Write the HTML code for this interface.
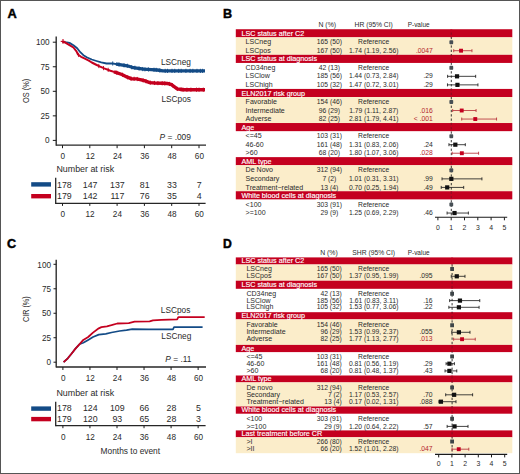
<!DOCTYPE html>
<html><head><meta charset="utf-8"><style>
html,body{margin:0;padding:0;background:#fff;}
#wrap{position:relative;width:520px;height:474px;overflow:hidden;background:#fff;}
#frame{position:absolute;left:0;top:0;width:518px;height:472px;border:1px solid #555;}
svg{position:absolute;left:0;top:0;}
text{font-family:"Liberation Sans", sans-serif;}
</style></head><body><div id="wrap">
<svg width="520" height="474" viewBox="0 0 520 474" font-family='"Liberation Sans", sans-serif'>
<text x="7.50" y="17.80" font-size="12.8" fill="#000" font-weight="bold" stroke="#000" stroke-width="0.45">A</text>
<text x="223.00" y="17.80" font-size="12.6" fill="#000" font-weight="bold" stroke="#000" stroke-width="0.45">B</text>
<text x="7.00" y="248.00" font-size="12.6" fill="#000" font-weight="bold" stroke="#000" stroke-width="0.45">C</text>
<text x="223.00" y="247.70" font-size="12.2" fill="#000" font-weight="bold" stroke="#000" stroke-width="0.45">D</text>
<line x1="56.20" y1="36.50" x2="56.20" y2="145.80" stroke="#262626" stroke-width="1.35"/>
<line x1="52.80" y1="140.40" x2="56.20" y2="140.40" stroke="#1a1a1a" stroke-width="1"/>
<text x="49.60" y="143.30" font-size="8.2" fill="#2a2a2a" text-anchor="end">0</text>
<line x1="52.80" y1="115.85" x2="56.20" y2="115.85" stroke="#1a1a1a" stroke-width="1"/>
<text x="49.60" y="118.75" font-size="8.2" fill="#2a2a2a" text-anchor="end">25</text>
<line x1="52.80" y1="91.30" x2="56.20" y2="91.30" stroke="#1a1a1a" stroke-width="1"/>
<text x="49.60" y="94.20" font-size="8.2" fill="#2a2a2a" text-anchor="end">50</text>
<line x1="52.80" y1="66.75" x2="56.20" y2="66.75" stroke="#1a1a1a" stroke-width="1"/>
<text x="49.60" y="69.65" font-size="8.2" fill="#2a2a2a" text-anchor="end">75</text>
<line x1="52.80" y1="42.20" x2="56.20" y2="42.20" stroke="#1a1a1a" stroke-width="1"/>
<text x="49.60" y="45.10" font-size="8.2" fill="#2a2a2a" text-anchor="end">100</text>
<line x1="56.20" y1="145.20" x2="206.00" y2="145.20" stroke="#262626" stroke-width="1.3"/>
<line x1="62.50" y1="145.20" x2="62.50" y2="148.20" stroke="#1a1a1a" stroke-width="1"/>
<text x="62.90" y="159.30" font-size="8.2" fill="#2a2a2a" text-anchor="middle">0</text>
<line x1="89.80" y1="145.20" x2="89.80" y2="148.20" stroke="#1a1a1a" stroke-width="1"/>
<text x="90.20" y="159.30" font-size="8.2" fill="#2a2a2a" text-anchor="middle">12</text>
<line x1="117.10" y1="145.20" x2="117.10" y2="148.20" stroke="#1a1a1a" stroke-width="1"/>
<text x="117.50" y="159.30" font-size="8.2" fill="#2a2a2a" text-anchor="middle">24</text>
<line x1="144.40" y1="145.20" x2="144.40" y2="148.20" stroke="#1a1a1a" stroke-width="1"/>
<text x="144.80" y="159.30" font-size="8.2" fill="#2a2a2a" text-anchor="middle">36</text>
<line x1="171.70" y1="145.20" x2="171.70" y2="148.20" stroke="#1a1a1a" stroke-width="1"/>
<text x="172.10" y="159.30" font-size="8.2" fill="#2a2a2a" text-anchor="middle">48</text>
<line x1="199.00" y1="145.20" x2="199.00" y2="148.20" stroke="#1a1a1a" stroke-width="1"/>
<text x="199.40" y="159.30" font-size="8.2" fill="#2a2a2a" text-anchor="middle">60</text>
<text x="25.70" y="90.90" font-size="9.0" fill="#2a2a2a" text-anchor="middle" textLength="24.2" lengthAdjust="spacingAndGlyphs" transform="rotate(-90 25.7 90.9)" dy="3.3">OS (%)</text>
<polyline points="62.5,41.6 65.5,42.2 69.5,42.9 73.4,45.2 77.2,48.3 80.3,52.2 83.4,55.2 87.2,57.5 91.8,59.5 96.5,61.0 101.2,62.4 106.5,63.5 112.7,63.5 118.0,64.3 122.7,65.1 127.3,65.8 132.0,67.3 136.6,68.1 143.5,69.2 151.2,69.6 157.4,70.0 162.8,70.9 172.0,70.9 205.0,70.9" fill="none" stroke="#134b86" stroke-width="1.8" stroke-linejoin="round" stroke-linecap="butt"/>
<polyline points="116.0,64.0 118.0,64.3 122.7,65.1 127.3,65.8 132.0,67.3 136.6,68.1 143.5,69.2 151.2,69.6 157.4,70.0 162.8,70.9 172.0,70.9 205.0,70.9" fill="none" stroke="#134b86" stroke-width="3.3" stroke-linejoin="round" stroke-linecap="butt"/>
<line x1="112.70" y1="61.40" x2="112.70" y2="65.60" stroke="#134b86" stroke-width="0.9"/>
<line x1="119.00" y1="62.37" x2="119.00" y2="66.57" stroke="#134b86" stroke-width="0.9"/>
<line x1="124.00" y1="63.20" x2="124.00" y2="67.40" stroke="#134b86" stroke-width="0.9"/>
<line x1="127.37" y1="63.72" x2="127.37" y2="67.92" stroke="#134b86" stroke-width="0.9"/>
<line x1="131.71" y1="65.11" x2="131.71" y2="69.31" stroke="#134b86" stroke-width="0.9"/>
<line x1="134.89" y1="65.70" x2="134.89" y2="69.90" stroke="#134b86" stroke-width="0.9"/>
<line x1="139.05" y1="66.39" x2="139.05" y2="70.59" stroke="#134b86" stroke-width="0.9"/>
<line x1="142.70" y1="66.97" x2="142.70" y2="71.17" stroke="#134b86" stroke-width="0.9"/>
<line x1="144.96" y1="67.18" x2="144.96" y2="71.38" stroke="#134b86" stroke-width="0.9"/>
<line x1="148.43" y1="67.36" x2="148.43" y2="71.56" stroke="#134b86" stroke-width="0.9"/>
<line x1="154.01" y1="67.68" x2="154.01" y2="71.88" stroke="#134b86" stroke-width="0.9"/>
<line x1="156.22" y1="67.82" x2="156.22" y2="72.02" stroke="#134b86" stroke-width="0.9"/>
<line x1="159.76" y1="68.29" x2="159.76" y2="72.49" stroke="#134b86" stroke-width="0.9"/>
<line x1="165.19" y1="68.80" x2="165.19" y2="73.00" stroke="#134b86" stroke-width="0.9"/>
<line x1="167.53" y1="68.80" x2="167.53" y2="73.00" stroke="#134b86" stroke-width="0.9"/>
<line x1="172.01" y1="68.80" x2="172.01" y2="73.00" stroke="#134b86" stroke-width="0.9"/>
<line x1="174.74" y1="68.80" x2="174.74" y2="73.00" stroke="#134b86" stroke-width="0.9"/>
<line x1="178.73" y1="68.80" x2="178.73" y2="73.00" stroke="#134b86" stroke-width="0.9"/>
<line x1="181.16" y1="68.80" x2="181.16" y2="73.00" stroke="#134b86" stroke-width="0.9"/>
<line x1="185.92" y1="68.80" x2="185.92" y2="73.00" stroke="#134b86" stroke-width="0.9"/>
<line x1="190.08" y1="68.80" x2="190.08" y2="73.00" stroke="#134b86" stroke-width="0.9"/>
<line x1="192.86" y1="68.80" x2="192.86" y2="73.00" stroke="#134b86" stroke-width="0.9"/>
<line x1="196.98" y1="68.80" x2="196.98" y2="73.00" stroke="#134b86" stroke-width="0.9"/>
<line x1="200.41" y1="68.80" x2="200.41" y2="73.00" stroke="#134b86" stroke-width="0.9"/>
<line x1="202.55" y1="68.80" x2="202.55" y2="73.00" stroke="#134b86" stroke-width="0.9"/>
<polyline points="62.5,41.6 65.7,42.9 69.5,45.2 73.4,47.5 76.5,51.4 78.0,54.5 81.1,56.8 84.9,58.7 88.8,60.6 91.8,62.5 95.7,64.5 99.6,66.4 104.2,68.4 110.4,70.7 116.5,72.6 121.9,74.5 127.3,77.2 131.2,78.7 136.6,78.9 141.2,79.8 145.1,80.9 149.7,82.6 155.0,83.0 162.8,83.3 167.4,83.5 171.1,84.3 174.2,86.6 177.2,88.9 183.4,89.7 205.0,89.7" fill="none" stroke="#c4001f" stroke-width="2.0" stroke-linejoin="round" stroke-linecap="butt"/>
<polyline points="114.0,71.8 116.5,72.6 121.9,74.5 127.3,77.2 131.2,78.7 136.6,78.9 141.2,79.8 145.1,80.9 149.7,82.6 155.0,83.0 162.8,83.3 167.4,83.5 171.1,84.3 174.2,86.6 177.2,88.9 183.4,89.7 205.0,89.7" fill="none" stroke="#c4001f" stroke-width="3.4" stroke-linejoin="round" stroke-linecap="butt"/>
<line x1="60.70" y1="41.40" x2="65.30" y2="41.40" stroke="#c4001f" stroke-width="1.1"/>
<line x1="63.00" y1="39.10" x2="63.00" y2="43.70" stroke="#c4001f" stroke-width="1.1"/>
<line x1="78.60" y1="52.85" x2="78.60" y2="57.05" stroke="#c4001f" stroke-width="0.9"/>
<line x1="98.80" y1="63.91" x2="98.80" y2="68.11" stroke="#c4001f" stroke-width="0.9"/>
<line x1="103.50" y1="66.00" x2="103.50" y2="70.20" stroke="#c4001f" stroke-width="0.9"/>
<line x1="108.20" y1="67.78" x2="108.20" y2="71.98" stroke="#c4001f" stroke-width="0.9"/>
<line x1="116.80" y1="70.61" x2="116.80" y2="74.81" stroke="#c4001f" stroke-width="0.9"/>
<line x1="122.50" y1="72.70" x2="122.50" y2="76.90" stroke="#c4001f" stroke-width="0.9"/>
<line x1="127.62" y1="75.22" x2="127.62" y2="79.42" stroke="#c4001f" stroke-width="0.9"/>
<line x1="131.02" y1="76.53" x2="131.02" y2="80.73" stroke="#c4001f" stroke-width="0.9"/>
<line x1="134.12" y1="76.71" x2="134.12" y2="80.91" stroke="#c4001f" stroke-width="0.9"/>
<line x1="137.27" y1="76.93" x2="137.27" y2="81.13" stroke="#c4001f" stroke-width="0.9"/>
<line x1="143.08" y1="78.23" x2="143.08" y2="82.43" stroke="#c4001f" stroke-width="0.9"/>
<line x1="145.93" y1="79.11" x2="145.93" y2="83.31" stroke="#c4001f" stroke-width="0.9"/>
<line x1="150.33" y1="80.55" x2="150.33" y2="84.75" stroke="#c4001f" stroke-width="0.9"/>
<line x1="154.51" y1="80.86" x2="154.51" y2="85.06" stroke="#c4001f" stroke-width="0.9"/>
<line x1="157.91" y1="81.01" x2="157.91" y2="85.21" stroke="#c4001f" stroke-width="0.9"/>
<line x1="162.21" y1="81.18" x2="162.21" y2="85.38" stroke="#c4001f" stroke-width="0.9"/>
<line x1="164.75" y1="81.28" x2="164.75" y2="85.48" stroke="#c4001f" stroke-width="0.9"/>
<line x1="169.52" y1="81.86" x2="169.52" y2="86.06" stroke="#c4001f" stroke-width="0.9"/>
<line x1="172.47" y1="83.21" x2="172.47" y2="87.41" stroke="#c4001f" stroke-width="0.9"/>
<line x1="177.45" y1="86.83" x2="177.45" y2="91.03" stroke="#c4001f" stroke-width="0.9"/>
<line x1="181.11" y1="87.30" x2="181.11" y2="91.50" stroke="#c4001f" stroke-width="0.9"/>
<line x1="183.03" y1="87.55" x2="183.03" y2="91.75" stroke="#c4001f" stroke-width="0.9"/>
<line x1="186.93" y1="87.60" x2="186.93" y2="91.80" stroke="#c4001f" stroke-width="0.9"/>
<line x1="190.92" y1="87.60" x2="190.92" y2="91.80" stroke="#c4001f" stroke-width="0.9"/>
<line x1="196.52" y1="87.60" x2="196.52" y2="91.80" stroke="#c4001f" stroke-width="0.9"/>
<line x1="199.05" y1="87.60" x2="199.05" y2="91.80" stroke="#c4001f" stroke-width="0.9"/>
<line x1="203.30" y1="87.60" x2="203.30" y2="91.80" stroke="#c4001f" stroke-width="0.9"/>
<text x="160.90" y="64.90" font-size="8.3" fill="#2a2a2a">LSCneg</text>
<text x="161.40" y="102.30" font-size="8.3" fill="#2a2a2a">LSCpos</text>
<text x="159.5" y="140.2" font-size="8.4" fill="#2a2a2a"><tspan font-style="italic">P</tspan> = .009</text>
<text x="56.40" y="171.60" font-size="8.9" fill="#2a2a2a">Number at risk</text>
<line x1="55.70" y1="177.70" x2="55.70" y2="203.90" stroke="#262626" stroke-width="1.3"/>
<line x1="55.70" y1="203.30" x2="205.60" y2="203.30" stroke="#262626" stroke-width="1.3"/>
<rect x="31.20" y="182.20" width="19.80" height="4.40" fill="#134b86"/>
<rect x="31.20" y="194.00" width="19.80" height="4.40" fill="#c4001f"/>
<line x1="62.50" y1="203.30" x2="62.50" y2="205.90" stroke="#1a1a1a" stroke-width="1"/>
<text x="62.80" y="217.30" font-size="8.2" fill="#2a2a2a" text-anchor="middle">0</text>
<line x1="89.80" y1="203.30" x2="89.80" y2="205.90" stroke="#1a1a1a" stroke-width="1"/>
<text x="90.10" y="217.30" font-size="8.2" fill="#2a2a2a" text-anchor="middle">12</text>
<line x1="117.10" y1="203.30" x2="117.10" y2="205.90" stroke="#1a1a1a" stroke-width="1"/>
<text x="117.40" y="217.30" font-size="8.2" fill="#2a2a2a" text-anchor="middle">24</text>
<line x1="144.40" y1="203.30" x2="144.40" y2="205.90" stroke="#1a1a1a" stroke-width="1"/>
<text x="144.70" y="217.30" font-size="8.2" fill="#2a2a2a" text-anchor="middle">36</text>
<line x1="171.70" y1="203.30" x2="171.70" y2="205.90" stroke="#1a1a1a" stroke-width="1"/>
<text x="172.00" y="217.30" font-size="8.2" fill="#2a2a2a" text-anchor="middle">48</text>
<line x1="199.00" y1="203.30" x2="199.00" y2="205.90" stroke="#1a1a1a" stroke-width="1"/>
<text x="199.30" y="217.30" font-size="8.2" fill="#2a2a2a" text-anchor="middle">60</text>
<text x="57.00" y="187.80" font-size="8.8" fill="#2a2a2a">178</text>
<text x="90.10" y="187.80" font-size="8.8" fill="#2a2a2a" text-anchor="middle">147</text>
<text x="117.40" y="187.80" font-size="8.8" fill="#2a2a2a" text-anchor="middle">137</text>
<text x="144.70" y="187.80" font-size="8.8" fill="#2a2a2a" text-anchor="middle">81</text>
<text x="172.00" y="187.80" font-size="8.8" fill="#2a2a2a" text-anchor="middle">33</text>
<text x="199.30" y="187.80" font-size="8.8" fill="#2a2a2a" text-anchor="middle">7</text>
<text x="57.00" y="199.10" font-size="8.8" fill="#2a2a2a">179</text>
<text x="90.10" y="199.10" font-size="8.8" fill="#2a2a2a" text-anchor="middle">142</text>
<text x="117.40" y="199.10" font-size="8.8" fill="#2a2a2a" text-anchor="middle">117</text>
<text x="144.70" y="199.10" font-size="8.8" fill="#2a2a2a" text-anchor="middle">76</text>
<text x="172.00" y="199.10" font-size="8.8" fill="#2a2a2a" text-anchor="middle">35</text>
<text x="199.30" y="199.10" font-size="8.8" fill="#2a2a2a" text-anchor="middle">4</text>
<line x1="56.20" y1="259.70" x2="56.20" y2="367.60" stroke="#262626" stroke-width="1.35"/>
<line x1="53.50" y1="362.20" x2="56.20" y2="362.20" stroke="#1a1a1a" stroke-width="1"/>
<text x="51.00" y="365.40" font-size="8.2" fill="#2a2a2a" text-anchor="end">0</text>
<line x1="53.50" y1="337.73" x2="56.20" y2="337.73" stroke="#1a1a1a" stroke-width="1"/>
<text x="51.00" y="340.93" font-size="8.2" fill="#2a2a2a" text-anchor="end">25</text>
<line x1="53.50" y1="313.25" x2="56.20" y2="313.25" stroke="#1a1a1a" stroke-width="1"/>
<text x="51.00" y="316.45" font-size="8.2" fill="#2a2a2a" text-anchor="end">50</text>
<line x1="53.50" y1="288.77" x2="56.20" y2="288.77" stroke="#1a1a1a" stroke-width="1"/>
<text x="51.00" y="291.97" font-size="8.2" fill="#2a2a2a" text-anchor="end">75</text>
<line x1="53.50" y1="264.30" x2="56.20" y2="264.30" stroke="#1a1a1a" stroke-width="1"/>
<text x="51.00" y="267.50" font-size="8.2" fill="#2a2a2a" text-anchor="end">100</text>
<line x1="56.20" y1="367.00" x2="206.00" y2="367.00" stroke="#262626" stroke-width="1.3"/>
<line x1="62.90" y1="367.00" x2="62.90" y2="370.00" stroke="#1a1a1a" stroke-width="1"/>
<text x="63.30" y="381.10" font-size="8.2" fill="#2a2a2a" text-anchor="middle">0</text>
<line x1="89.95" y1="367.00" x2="89.95" y2="370.00" stroke="#1a1a1a" stroke-width="1"/>
<text x="90.35" y="381.10" font-size="8.2" fill="#2a2a2a" text-anchor="middle">12</text>
<line x1="117.00" y1="367.00" x2="117.00" y2="370.00" stroke="#1a1a1a" stroke-width="1"/>
<text x="117.40" y="381.10" font-size="8.2" fill="#2a2a2a" text-anchor="middle">24</text>
<line x1="144.04" y1="367.00" x2="144.04" y2="370.00" stroke="#1a1a1a" stroke-width="1"/>
<text x="144.44" y="381.10" font-size="8.2" fill="#2a2a2a" text-anchor="middle">36</text>
<line x1="171.09" y1="367.00" x2="171.09" y2="370.00" stroke="#1a1a1a" stroke-width="1"/>
<text x="171.49" y="381.10" font-size="8.2" fill="#2a2a2a" text-anchor="middle">48</text>
<line x1="198.14" y1="367.00" x2="198.14" y2="370.00" stroke="#1a1a1a" stroke-width="1"/>
<text x="198.54" y="381.10" font-size="8.2" fill="#2a2a2a" text-anchor="middle">60</text>
<text x="25.70" y="309.20" font-size="8.8" fill="#2a2a2a" text-anchor="middle" textLength="25.7" lengthAdjust="spacingAndGlyphs" transform="rotate(-90 25.7 309.2)" dy="3.3">CIR (%)</text>
<polyline points="63.6,362.2 67.8,358.3 71.7,353.5 75.5,348.6 79.4,344.3 83.3,342.8 88.2,339.9 93.0,337.0 98.8,334.6 105.8,333.8 111.5,332.5 119.6,331.0 126.5,330.1 132.3,329.2 148.5,329.3 173.0,329.3 174.0,327.2 202.6,327.2" fill="none" stroke="#134b86" stroke-width="1.7" stroke-linejoin="round" stroke-linecap="butt"/>
<polyline points="63.6,362.2 67.8,358.3 71.7,353.5 75.5,348.6 79.4,344.3 83.3,339.9 88.2,337.0 93.0,332.6 98.8,328.3 101.4,327.2 106.9,326.3 111.5,325.2 117.3,323.5 128.8,323.2 134.6,321.7 149.6,321.4 153.0,320.3 161.3,319.8 177.2,319.3 178.3,317.2 204.7,317.2" fill="none" stroke="#c4001f" stroke-width="1.8" stroke-linejoin="round" stroke-linecap="butt"/>
<text x="160.80" y="312.50" font-size="8.3" fill="#2a2a2a">LSCpos</text>
<text x="161.30" y="339.40" font-size="8.3" fill="#2a2a2a">LSCneg</text>
<text x="165.3" y="362.2" font-size="8.4" fill="#2a2a2a"><tspan font-style="italic">P</tspan> = .11</text>
<text x="56.40" y="395.70" font-size="8.9" fill="#2a2a2a">Number at risk</text>
<line x1="55.70" y1="401.80" x2="55.70" y2="426.20" stroke="#262626" stroke-width="1.3"/>
<line x1="55.70" y1="425.60" x2="205.60" y2="425.60" stroke="#262626" stroke-width="1.3"/>
<rect x="31.20" y="406.40" width="19.80" height="4.40" fill="#134b86"/>
<rect x="31.20" y="416.90" width="19.80" height="4.40" fill="#c4001f"/>
<line x1="62.90" y1="425.60" x2="62.90" y2="428.20" stroke="#1a1a1a" stroke-width="1"/>
<text x="63.20" y="439.70" font-size="8.2" fill="#2a2a2a" text-anchor="middle">0</text>
<line x1="89.95" y1="425.60" x2="89.95" y2="428.20" stroke="#1a1a1a" stroke-width="1"/>
<text x="90.25" y="439.70" font-size="8.2" fill="#2a2a2a" text-anchor="middle">12</text>
<line x1="117.00" y1="425.60" x2="117.00" y2="428.20" stroke="#1a1a1a" stroke-width="1"/>
<text x="117.30" y="439.70" font-size="8.2" fill="#2a2a2a" text-anchor="middle">24</text>
<line x1="144.04" y1="425.60" x2="144.04" y2="428.20" stroke="#1a1a1a" stroke-width="1"/>
<text x="144.34" y="439.70" font-size="8.2" fill="#2a2a2a" text-anchor="middle">36</text>
<line x1="171.09" y1="425.60" x2="171.09" y2="428.20" stroke="#1a1a1a" stroke-width="1"/>
<text x="171.39" y="439.70" font-size="8.2" fill="#2a2a2a" text-anchor="middle">48</text>
<line x1="198.14" y1="425.60" x2="198.14" y2="428.20" stroke="#1a1a1a" stroke-width="1"/>
<text x="198.44" y="439.70" font-size="8.2" fill="#2a2a2a" text-anchor="middle">60</text>
<text x="57.00" y="411.40" font-size="8.8" fill="#2a2a2a">178</text>
<text x="90.25" y="411.40" font-size="8.8" fill="#2a2a2a" text-anchor="middle">124</text>
<text x="117.30" y="411.40" font-size="8.8" fill="#2a2a2a" text-anchor="middle">109</text>
<text x="144.34" y="411.40" font-size="8.8" fill="#2a2a2a" text-anchor="middle">66</text>
<text x="171.39" y="411.40" font-size="8.8" fill="#2a2a2a" text-anchor="middle">28</text>
<text x="198.44" y="411.40" font-size="8.8" fill="#2a2a2a" text-anchor="middle">5</text>
<text x="57.00" y="422.00" font-size="8.8" fill="#2a2a2a">179</text>
<text x="90.25" y="422.00" font-size="8.8" fill="#2a2a2a" text-anchor="middle">120</text>
<text x="117.30" y="422.00" font-size="8.8" fill="#2a2a2a" text-anchor="middle">93</text>
<text x="144.34" y="422.00" font-size="8.8" fill="#2a2a2a" text-anchor="middle">65</text>
<text x="171.39" y="422.00" font-size="8.8" fill="#2a2a2a" text-anchor="middle">28</text>
<text x="198.44" y="422.00" font-size="8.8" fill="#2a2a2a" text-anchor="middle">3</text>
<text x="100.60" y="454.10" font-size="9.9" fill="#2a2a2a" textLength="59.5" lengthAdjust="spacingAndGlyphs">Months to event</text>
<rect x="235.80" y="29.23" width="276.50" height="8.12" fill="#c4001f"/>
<rect x="235.80" y="37.35" width="276.50" height="17.46" fill="#fbedca"/>
<rect x="235.80" y="54.81" width="276.50" height="8.12" fill="#c4001f"/>
<rect x="235.80" y="88.92" width="276.50" height="8.12" fill="#c4001f"/>
<rect x="235.80" y="97.04" width="276.50" height="25.99" fill="#fbedca"/>
<rect x="235.80" y="123.03" width="276.50" height="8.12" fill="#c4001f"/>
<rect x="235.80" y="157.13" width="276.50" height="8.12" fill="#c4001f"/>
<rect x="235.80" y="165.25" width="276.50" height="25.99" fill="#fbedca"/>
<rect x="235.80" y="191.24" width="276.50" height="8.12" fill="#c4001f"/>
<text x="318.50" y="26.60" font-size="6.75" fill="#2a2a2a" textLength="17.5" lengthAdjust="spacingAndGlyphs">N (%)</text>
<text x="373.70" y="26.60" font-size="6.75" fill="#2a2a2a" text-anchor="middle">HR (95% CI)</text>
<text x="407.70" y="26.60" font-size="6.75" fill="#2a2a2a" textLength="21.9" lengthAdjust="spacingAndGlyphs">P-value</text>
<line x1="451.30" y1="32.50" x2="451.30" y2="217.30" stroke="#222" stroke-width="0.9" stroke-dasharray="2.3,2.0"/>
<rect x="450.30" y="29.23" width="2" height="8.12" fill="#c4001f" opacity="0.6"/>
<rect x="450.30" y="54.81" width="2" height="8.12" fill="#c4001f" opacity="0.6"/>
<rect x="450.30" y="88.92" width="2" height="8.12" fill="#c4001f" opacity="0.6"/>
<rect x="450.30" y="123.03" width="2" height="8.12" fill="#c4001f" opacity="0.6"/>
<rect x="450.30" y="157.13" width="2" height="8.12" fill="#c4001f" opacity="0.6"/>
<rect x="450.30" y="191.24" width="2" height="8.12" fill="#c4001f" opacity="0.6"/>
<text x="241.50" y="35.70" font-size="7.2" fill="#fff" stroke="#fff" stroke-width="0.15">LSC status after C2</text>
<text x="245.60" y="44.25" font-size="7.05" fill="#2a2a2a">LSCneg</text>
<text x="329.40" y="44.25" font-size="6.75" fill="#2a2a2a" text-anchor="middle">165 (50)</text>
<text x="373.70" y="44.25" font-size="6.75" fill="#2a2a2a" text-anchor="middle">Reference</text>
<rect x="449.40" y="40.15" width="3.8" height="4.0" rx="0.9" fill="#474f55"/>
<text x="245.60" y="52.79" font-size="7.05" fill="#2a2a2a">LSCpos</text>
<text x="329.40" y="52.79" font-size="6.75" fill="#2a2a2a" text-anchor="middle">167 (50)</text>
<text x="373.70" y="52.79" font-size="6.75" fill="#2a2a2a" text-anchor="middle">1.74 (1.19, 2.56)</text>
<text x="432.80" y="52.79" font-size="6.75" fill="#b3242c" text-anchor="end">.0047</text>
<line x1="453.73" y1="50.69" x2="471.95" y2="50.69" stroke="#b8343c" stroke-width="0.85"/>
<line x1="453.73" y1="49.19" x2="453.73" y2="52.19" stroke="#b8343c" stroke-width="0.9"/>
<line x1="471.95" y1="49.19" x2="471.95" y2="52.19" stroke="#b8343c" stroke-width="0.9"/>
<rect x="459.09" y="48.74" width="3.90" height="3.90" fill="#c4001f"/>
<text x="241.50" y="61.34" font-size="7.2" fill="#fff" stroke="#fff" stroke-width="0.15">LSC status at diagnosis</text>
<text x="245.60" y="69.88" font-size="7.05" fill="#2a2a2a">CD34neg</text>
<text x="329.40" y="69.88" font-size="6.75" fill="#2a2a2a" text-anchor="middle">42 (13)</text>
<text x="373.70" y="69.88" font-size="6.75" fill="#2a2a2a" text-anchor="middle">Reference</text>
<rect x="449.40" y="65.78" width="3.8" height="4.0" rx="0.9" fill="#474f55"/>
<text x="245.60" y="78.43" font-size="7.05" fill="#2a2a2a">LSClow</text>
<text x="329.40" y="78.43" font-size="6.75" fill="#2a2a2a" text-anchor="middle">185 (56)</text>
<text x="373.70" y="78.43" font-size="6.75" fill="#2a2a2a" text-anchor="middle">1.44 (0.73, 2.84)</text>
<text x="432.80" y="78.43" font-size="6.75" fill="#2a2a2a" text-anchor="end">.29</text>
<line x1="447.61" y1="76.33" x2="475.67" y2="76.33" stroke="#222" stroke-width="0.85"/>
<line x1="447.61" y1="74.83" x2="447.61" y2="77.83" stroke="#222" stroke-width="0.9"/>
<line x1="475.67" y1="74.83" x2="475.67" y2="77.83" stroke="#222" stroke-width="0.9"/>
<rect x="454.95" y="74.23" width="4.20" height="4.20" fill="#111"/>
<text x="245.60" y="86.97" font-size="7.05" fill="#2a2a2a">LSChigh</text>
<text x="329.40" y="86.97" font-size="6.75" fill="#2a2a2a" text-anchor="middle">105 (32)</text>
<text x="373.70" y="86.97" font-size="6.75" fill="#2a2a2a" text-anchor="middle">1.47 (0.72, 3.01)</text>
<text x="432.80" y="86.97" font-size="6.75" fill="#2a2a2a" text-anchor="end">.29</text>
<line x1="447.48" y1="84.87" x2="477.93" y2="84.87" stroke="#222" stroke-width="0.85"/>
<line x1="447.48" y1="83.37" x2="447.48" y2="86.37" stroke="#222" stroke-width="0.9"/>
<line x1="477.93" y1="83.37" x2="477.93" y2="86.37" stroke="#222" stroke-width="0.9"/>
<rect x="455.35" y="82.77" width="4.20" height="4.20" fill="#111"/>
<text x="241.50" y="95.52" font-size="7.2" fill="#fff" stroke="#fff" stroke-width="0.15">ELN2017 risk group</text>
<text x="245.60" y="104.06" font-size="7.05" fill="#2a2a2a">Favorable</text>
<text x="329.40" y="104.06" font-size="6.75" fill="#2a2a2a" text-anchor="middle">154 (46)</text>
<text x="373.70" y="104.06" font-size="6.75" fill="#2a2a2a" text-anchor="middle">Reference</text>
<rect x="449.40" y="99.96" width="3.8" height="4.0" rx="0.9" fill="#474f55"/>
<text x="245.60" y="112.61" font-size="7.05" fill="#2a2a2a">Intermediate</text>
<text x="329.40" y="112.61" font-size="6.75" fill="#2a2a2a" text-anchor="middle">96 (29)</text>
<text x="373.70" y="112.61" font-size="6.75" fill="#2a2a2a" text-anchor="middle">1.79 (1.11, 2.87)</text>
<text x="432.80" y="112.61" font-size="6.75" fill="#b3242c" text-anchor="end">.016</text>
<line x1="452.66" y1="110.51" x2="476.07" y2="110.51" stroke="#b8343c" stroke-width="0.85"/>
<line x1="452.66" y1="109.01" x2="452.66" y2="112.01" stroke="#b8343c" stroke-width="0.9"/>
<line x1="476.07" y1="109.01" x2="476.07" y2="112.01" stroke="#b8343c" stroke-width="0.9"/>
<rect x="459.76" y="108.56" width="3.90" height="3.90" fill="#c4001f"/>
<text x="245.60" y="121.15" font-size="7.05" fill="#2a2a2a">Adverse</text>
<text x="329.40" y="121.15" font-size="6.75" fill="#2a2a2a" text-anchor="middle">82 (25)</text>
<text x="373.70" y="121.15" font-size="6.75" fill="#2a2a2a" text-anchor="middle">2.81 (1.79, 4.41)</text>
<text x="432.80" y="121.15" font-size="6.75" fill="#b3242c" text-anchor="end">&lt; .001</text>
<line x1="461.71" y1="119.05" x2="496.55" y2="119.05" stroke="#b8343c" stroke-width="0.85"/>
<line x1="461.71" y1="117.55" x2="461.71" y2="120.55" stroke="#b8343c" stroke-width="0.9"/>
<line x1="496.55" y1="117.55" x2="496.55" y2="120.55" stroke="#b8343c" stroke-width="0.9"/>
<rect x="473.32" y="117.10" width="3.90" height="3.90" fill="#c4001f"/>
<text x="241.50" y="129.69" font-size="7.2" fill="#fff" stroke="#fff" stroke-width="0.15">Age</text>
<text x="245.60" y="138.24" font-size="7.05" fill="#2a2a2a">&lt;=45</text>
<text x="329.40" y="138.24" font-size="6.75" fill="#2a2a2a" text-anchor="middle">103 (31)</text>
<text x="373.70" y="138.24" font-size="6.75" fill="#2a2a2a" text-anchor="middle">Reference</text>
<rect x="449.40" y="134.14" width="3.8" height="4.0" rx="0.9" fill="#474f55"/>
<text x="245.60" y="146.78" font-size="7.05" fill="#2a2a2a">46-60</text>
<text x="329.40" y="146.78" font-size="6.75" fill="#2a2a2a" text-anchor="middle">161 (48)</text>
<text x="373.70" y="146.78" font-size="6.75" fill="#2a2a2a" text-anchor="middle">1.31 (0.83, 2.06)</text>
<text x="432.80" y="146.78" font-size="6.75" fill="#2a2a2a" text-anchor="end">.24</text>
<line x1="448.94" y1="144.69" x2="465.30" y2="144.69" stroke="#222" stroke-width="0.85"/>
<line x1="448.94" y1="143.19" x2="448.94" y2="146.19" stroke="#222" stroke-width="0.9"/>
<line x1="465.30" y1="143.19" x2="465.30" y2="146.19" stroke="#222" stroke-width="0.9"/>
<rect x="453.22" y="142.59" width="4.20" height="4.20" fill="#111"/>
<text x="245.60" y="155.33" font-size="7.05" fill="#2a2a2a">&gt;60</text>
<text x="329.40" y="155.33" font-size="6.75" fill="#2a2a2a" text-anchor="middle">68 (20)</text>
<text x="373.70" y="155.33" font-size="6.75" fill="#2a2a2a" text-anchor="middle">1.80 (1.07, 3.06)</text>
<text x="432.80" y="155.33" font-size="6.75" fill="#b3242c" text-anchor="end">.028</text>
<line x1="452.13" y1="153.23" x2="478.60" y2="153.23" stroke="#b8343c" stroke-width="0.85"/>
<line x1="452.13" y1="151.73" x2="452.13" y2="154.73" stroke="#b8343c" stroke-width="0.9"/>
<line x1="478.60" y1="151.73" x2="478.60" y2="154.73" stroke="#b8343c" stroke-width="0.9"/>
<rect x="459.89" y="151.28" width="3.90" height="3.90" fill="#c4001f"/>
<text x="241.50" y="163.88" font-size="7.2" fill="#fff" stroke="#fff" stroke-width="0.15">AML type</text>
<text x="245.60" y="172.42" font-size="7.05" fill="#2a2a2a">De Novo</text>
<text x="329.40" y="172.42" font-size="6.75" fill="#2a2a2a" text-anchor="middle">312 (94)</text>
<text x="373.70" y="172.42" font-size="6.75" fill="#2a2a2a" text-anchor="middle">Reference</text>
<rect x="449.40" y="168.32" width="3.8" height="4.0" rx="0.9" fill="#474f55"/>
<text x="245.60" y="180.96" font-size="7.05" fill="#2a2a2a">Secondary</text>
<text x="329.40" y="180.96" font-size="6.75" fill="#2a2a2a" text-anchor="middle">7 (2)</text>
<text x="373.70" y="180.96" font-size="6.75" fill="#2a2a2a" text-anchor="middle">1.01 (0.31, 3.31)</text>
<text x="432.80" y="180.96" font-size="6.75" fill="#2a2a2a" text-anchor="end">.99</text>
<line x1="442.02" y1="178.86" x2="481.92" y2="178.86" stroke="#222" stroke-width="0.85"/>
<line x1="442.02" y1="177.36" x2="442.02" y2="180.36" stroke="#222" stroke-width="0.9"/>
<line x1="481.92" y1="177.36" x2="481.92" y2="180.36" stroke="#222" stroke-width="0.9"/>
<rect x="449.23" y="176.76" width="4.20" height="4.20" fill="#111"/>
<text x="245.60" y="189.51" font-size="7.05" fill="#2a2a2a">Treatment−related</text>
<text x="329.40" y="189.51" font-size="6.75" fill="#2a2a2a" text-anchor="middle">13 (4)</text>
<text x="373.70" y="189.51" font-size="6.75" fill="#2a2a2a" text-anchor="middle">0.70 (0.25, 1.94)</text>
<text x="432.80" y="189.51" font-size="6.75" fill="#2a2a2a" text-anchor="end">.49</text>
<line x1="441.22" y1="187.41" x2="463.70" y2="187.41" stroke="#222" stroke-width="0.85"/>
<line x1="441.22" y1="185.91" x2="441.22" y2="188.91" stroke="#222" stroke-width="0.9"/>
<line x1="463.70" y1="185.91" x2="463.70" y2="188.91" stroke="#222" stroke-width="0.9"/>
<rect x="445.11" y="185.31" width="4.20" height="4.20" fill="#111"/>
<text x="241.50" y="198.06" font-size="7.2" fill="#fff" stroke="#fff" stroke-width="0.15">White blood cells at diagnosis</text>
<text x="245.60" y="206.60" font-size="7.05" fill="#2a2a2a">&lt;100</text>
<text x="329.40" y="206.60" font-size="6.75" fill="#2a2a2a" text-anchor="middle">303 (91)</text>
<text x="373.70" y="206.60" font-size="6.75" fill="#2a2a2a" text-anchor="middle">Reference</text>
<rect x="449.40" y="202.50" width="3.8" height="4.0" rx="0.9" fill="#474f55"/>
<text x="245.60" y="215.14" font-size="7.05" fill="#2a2a2a">&gt;=100</text>
<text x="329.40" y="215.14" font-size="6.75" fill="#2a2a2a" text-anchor="middle">29 (9)</text>
<text x="373.70" y="215.14" font-size="6.75" fill="#2a2a2a" text-anchor="middle">1.25 (0.69, 2.29)</text>
<text x="432.80" y="215.14" font-size="6.75" fill="#2a2a2a" text-anchor="end">.46</text>
<line x1="447.08" y1="213.04" x2="468.36" y2="213.04" stroke="#222" stroke-width="0.85"/>
<line x1="447.08" y1="211.54" x2="447.08" y2="214.54" stroke="#222" stroke-width="0.9"/>
<line x1="468.36" y1="211.54" x2="468.36" y2="214.54" stroke="#222" stroke-width="0.9"/>
<rect x="452.42" y="210.94" width="4.20" height="4.20" fill="#111"/>
<line x1="435.00" y1="217.30" x2="507.20" y2="217.30" stroke="#1a1a1a" stroke-width="1.1"/>
<line x1="437.90" y1="217.30" x2="437.90" y2="220.30" stroke="#1a1a1a" stroke-width="1"/>
<text x="437.90" y="229.80" font-size="6.9" fill="#2a2a2a" text-anchor="middle">0</text>
<line x1="451.20" y1="217.30" x2="451.20" y2="220.30" stroke="#1a1a1a" stroke-width="1"/>
<text x="451.20" y="229.80" font-size="6.9" fill="#2a2a2a" text-anchor="middle">1</text>
<line x1="464.50" y1="217.30" x2="464.50" y2="220.30" stroke="#1a1a1a" stroke-width="1"/>
<text x="464.50" y="229.80" font-size="6.9" fill="#2a2a2a" text-anchor="middle">2</text>
<line x1="477.80" y1="217.30" x2="477.80" y2="220.30" stroke="#1a1a1a" stroke-width="1"/>
<text x="477.80" y="229.80" font-size="6.9" fill="#2a2a2a" text-anchor="middle">3</text>
<line x1="491.10" y1="217.30" x2="491.10" y2="220.30" stroke="#1a1a1a" stroke-width="1"/>
<text x="491.10" y="229.80" font-size="6.9" fill="#2a2a2a" text-anchor="middle">4</text>
<line x1="504.40" y1="217.30" x2="504.40" y2="220.30" stroke="#1a1a1a" stroke-width="1"/>
<text x="504.40" y="229.80" font-size="6.9" fill="#2a2a2a" text-anchor="middle">5</text>
<rect x="235.80" y="257.40" width="276.50" height="7.10" fill="#c4001f"/>
<rect x="235.80" y="264.50" width="276.50" height="16.20" fill="#fbedca"/>
<rect x="235.80" y="280.70" width="276.50" height="8.10" fill="#c4001f"/>
<rect x="235.80" y="312.20" width="276.50" height="7.20" fill="#c4001f"/>
<rect x="235.80" y="319.40" width="276.50" height="25.50" fill="#fbedca"/>
<rect x="235.80" y="344.90" width="276.50" height="7.20" fill="#c4001f"/>
<rect x="235.80" y="375.50" width="276.50" height="6.90" fill="#c4001f"/>
<rect x="235.80" y="382.40" width="276.50" height="24.10" fill="#fbedca"/>
<rect x="235.80" y="406.50" width="276.50" height="7.20" fill="#c4001f"/>
<rect x="235.80" y="430.40" width="276.50" height="6.90" fill="#c4001f"/>
<rect x="235.80" y="437.30" width="276.50" height="15.90" fill="#fbedca"/>
<text x="320.20" y="255.00" font-size="6.75" fill="#2a2a2a" textLength="17.5" lengthAdjust="spacingAndGlyphs">N (%)</text>
<text x="373.70" y="255.00" font-size="6.75" fill="#2a2a2a" text-anchor="middle">SHR (95% CI)</text>
<text x="407.70" y="255.00" font-size="6.75" fill="#2a2a2a" textLength="21.9" lengthAdjust="spacingAndGlyphs">P-value</text>
<line x1="452.10" y1="264.40" x2="452.10" y2="454.40" stroke="#222" stroke-width="0.9" stroke-dasharray="2.3,2.0"/>
<rect x="451.10" y="257.40" width="2" height="7.10" fill="#c4001f" opacity="0.6"/>
<rect x="451.10" y="280.70" width="2" height="8.10" fill="#c4001f" opacity="0.6"/>
<rect x="451.10" y="312.20" width="2" height="7.20" fill="#c4001f" opacity="0.6"/>
<rect x="451.10" y="344.90" width="2" height="7.20" fill="#c4001f" opacity="0.6"/>
<rect x="451.10" y="375.50" width="2" height="6.90" fill="#c4001f" opacity="0.6"/>
<rect x="451.10" y="406.50" width="2" height="7.20" fill="#c4001f" opacity="0.6"/>
<rect x="451.10" y="430.40" width="2" height="6.90" fill="#c4001f" opacity="0.6"/>
<text x="241.50" y="263.40" font-size="7.2" fill="#fff" stroke="#fff" stroke-width="0.15">LSC status after C2</text>
<text x="246.40" y="271.00" font-size="7.05" fill="#2a2a2a">LSCneg</text>
<text x="341.80" y="271.00" font-size="6.75" fill="#2a2a2a" text-anchor="end">165 (50)</text>
<text x="373.70" y="271.00" font-size="6.75" fill="#2a2a2a" text-anchor="middle">Reference</text>
<rect x="450.20" y="266.90" width="3.8" height="4.0" rx="0.3" fill="#3e4548"/>
<text x="246.40" y="278.40" font-size="7.05" fill="#2a2a2a">LSCpos</text>
<text x="341.80" y="278.40" font-size="6.75" fill="#2a2a2a" text-anchor="end">167 (50)</text>
<text x="373.70" y="278.40" font-size="6.75" fill="#2a2a2a" text-anchor="middle">1.37 (0.95, 1.99)</text>
<text x="432.60" y="278.40" font-size="6.75" fill="#2a2a2a" text-anchor="end">.095</text>
<line x1="451.24" y1="276.30" x2="464.97" y2="276.30" stroke="#222" stroke-width="0.85"/>
<line x1="451.24" y1="274.80" x2="451.24" y2="277.80" stroke="#222" stroke-width="0.9"/>
<line x1="464.97" y1="274.80" x2="464.97" y2="277.80" stroke="#222" stroke-width="0.9"/>
<rect x="454.68" y="274.20" width="4.20" height="4.20" fill="#111"/>
<text x="241.50" y="287.00" font-size="7.2" fill="#fff" stroke="#fff" stroke-width="0.15">LSC status at diagnosis</text>
<text x="246.40" y="295.80" font-size="7.05" fill="#2a2a2a">CD34neg</text>
<text x="341.80" y="295.80" font-size="6.75" fill="#2a2a2a" text-anchor="end">42 (13)</text>
<text x="373.70" y="295.80" font-size="6.75" fill="#2a2a2a" text-anchor="middle">Reference</text>
<rect x="450.20" y="291.70" width="3.8" height="4.0" rx="0.3" fill="#3e4548"/>
<text x="246.40" y="302.70" font-size="7.05" fill="#2a2a2a">LSClow</text>
<text x="341.80" y="302.70" font-size="6.75" fill="#2a2a2a" text-anchor="end">185 (56)</text>
<text x="373.70" y="302.70" font-size="6.75" fill="#2a2a2a" text-anchor="middle">1.61 (0.83, 3.11)</text>
<text x="432.60" y="302.70" font-size="6.75" fill="#2a2a2a" text-anchor="end">.16</text>
<line x1="449.66" y1="300.60" x2="479.75" y2="300.60" stroke="#222" stroke-width="0.85"/>
<line x1="449.66" y1="299.10" x2="449.66" y2="302.10" stroke="#222" stroke-width="0.9"/>
<line x1="479.75" y1="299.10" x2="479.75" y2="302.10" stroke="#222" stroke-width="0.9"/>
<rect x="457.85" y="298.50" width="4.20" height="4.20" fill="#111"/>
<text x="246.40" y="309.40" font-size="7.05" fill="#2a2a2a">LSChigh</text>
<text x="341.80" y="309.40" font-size="6.75" fill="#2a2a2a" text-anchor="end">105 (32)</text>
<text x="373.70" y="309.40" font-size="6.75" fill="#2a2a2a" text-anchor="middle">1.53 (0.77, 3.06)</text>
<text x="432.60" y="309.40" font-size="6.75" fill="#2a2a2a" text-anchor="end">.22</text>
<line x1="448.86" y1="307.30" x2="479.09" y2="307.30" stroke="#222" stroke-width="0.85"/>
<line x1="448.86" y1="305.80" x2="448.86" y2="308.80" stroke="#222" stroke-width="0.9"/>
<line x1="479.09" y1="305.80" x2="479.09" y2="308.80" stroke="#222" stroke-width="0.9"/>
<rect x="456.80" y="305.20" width="4.20" height="4.20" fill="#111"/>
<text x="241.50" y="318.40" font-size="7.2" fill="#fff" stroke="#fff" stroke-width="0.15">ELN2017 risk group</text>
<text x="246.40" y="327.40" font-size="7.05" fill="#2a2a2a">Favorable</text>
<text x="341.80" y="327.40" font-size="6.75" fill="#2a2a2a" text-anchor="end">154 (46)</text>
<text x="373.70" y="327.40" font-size="6.75" fill="#2a2a2a" text-anchor="middle">Reference</text>
<rect x="450.20" y="323.30" width="3.8" height="4.0" rx="0.3" fill="#3e4548"/>
<text x="246.40" y="334.40" font-size="7.05" fill="#2a2a2a">Intermediate</text>
<text x="341.80" y="334.40" font-size="6.75" fill="#2a2a2a" text-anchor="end">96 (29)</text>
<text x="373.70" y="334.40" font-size="6.75" fill="#2a2a2a" text-anchor="middle">1.53 (0.99, 2.37)</text>
<text x="432.60" y="334.40" font-size="6.75" fill="#2a2a2a" text-anchor="end">.055</text>
<line x1="451.77" y1="332.30" x2="469.98" y2="332.30" stroke="#222" stroke-width="0.85"/>
<line x1="451.77" y1="330.80" x2="451.77" y2="333.80" stroke="#222" stroke-width="0.9"/>
<line x1="469.98" y1="330.80" x2="469.98" y2="333.80" stroke="#222" stroke-width="0.9"/>
<rect x="456.80" y="330.20" width="4.20" height="4.20" fill="#111"/>
<text x="246.40" y="341.30" font-size="7.05" fill="#2a2a2a">Adverse</text>
<text x="341.80" y="341.30" font-size="6.75" fill="#2a2a2a" text-anchor="end">82 (25)</text>
<text x="373.70" y="341.30" font-size="6.75" fill="#2a2a2a" text-anchor="middle">1.77 (1.13, 2.77)</text>
<text x="432.60" y="341.30" font-size="6.75" fill="#b3242c" text-anchor="end">.013</text>
<line x1="453.62" y1="339.20" x2="475.26" y2="339.20" stroke="#b8343c" stroke-width="0.85"/>
<line x1="453.62" y1="337.70" x2="453.62" y2="340.70" stroke="#b8343c" stroke-width="0.9"/>
<line x1="475.26" y1="337.70" x2="475.26" y2="340.70" stroke="#b8343c" stroke-width="0.9"/>
<rect x="460.11" y="337.25" width="3.90" height="3.90" fill="#c4001f"/>
<text x="241.50" y="350.60" font-size="7.2" fill="#fff" stroke="#fff" stroke-width="0.15">Age</text>
<text x="246.40" y="358.50" font-size="7.05" fill="#2a2a2a">&lt;=45</text>
<text x="341.80" y="358.50" font-size="6.75" fill="#2a2a2a" text-anchor="end">103 (31)</text>
<text x="373.70" y="358.50" font-size="6.75" fill="#2a2a2a" text-anchor="middle">Reference</text>
<rect x="450.20" y="354.40" width="3.8" height="4.0" rx="0.3" fill="#3e4548"/>
<text x="246.40" y="365.80" font-size="7.05" fill="#2a2a2a">46-60</text>
<text x="341.80" y="365.80" font-size="6.75" fill="#2a2a2a" text-anchor="end">161 (48)</text>
<text x="373.70" y="365.80" font-size="6.75" fill="#2a2a2a" text-anchor="middle">0.81 (0.56, 1.19)</text>
<text x="432.60" y="365.80" font-size="6.75" fill="#2a2a2a" text-anchor="end">.29</text>
<line x1="446.09" y1="363.70" x2="454.41" y2="363.70" stroke="#222" stroke-width="0.85"/>
<line x1="446.09" y1="362.20" x2="446.09" y2="365.20" stroke="#222" stroke-width="0.9"/>
<line x1="454.41" y1="362.20" x2="454.41" y2="365.20" stroke="#222" stroke-width="0.9"/>
<rect x="447.29" y="361.60" width="4.20" height="4.20" fill="#111"/>
<text x="246.40" y="373.00" font-size="7.05" fill="#2a2a2a">&gt;60</text>
<text x="341.80" y="373.00" font-size="6.75" fill="#2a2a2a" text-anchor="end">68 (20)</text>
<text x="373.70" y="373.00" font-size="6.75" fill="#2a2a2a" text-anchor="middle">0.81 (0.48, 1.37)</text>
<text x="432.60" y="373.00" font-size="6.75" fill="#2a2a2a" text-anchor="end">.43</text>
<line x1="445.04" y1="370.90" x2="456.78" y2="370.90" stroke="#222" stroke-width="0.85"/>
<line x1="445.04" y1="369.40" x2="445.04" y2="372.40" stroke="#222" stroke-width="0.9"/>
<line x1="456.78" y1="369.40" x2="456.78" y2="372.40" stroke="#222" stroke-width="0.9"/>
<rect x="447.29" y="368.80" width="4.20" height="4.20" fill="#111"/>
<text x="241.50" y="381.00" font-size="7.2" fill="#fff" stroke="#fff" stroke-width="0.15">AML type</text>
<text x="246.40" y="389.50" font-size="7.05" fill="#2a2a2a">De novo</text>
<text x="341.80" y="389.50" font-size="6.75" fill="#2a2a2a" text-anchor="end">312 (94)</text>
<text x="373.70" y="389.50" font-size="6.75" fill="#2a2a2a" text-anchor="middle">Reference</text>
<rect x="450.20" y="385.40" width="3.8" height="4.0" rx="0.3" fill="#3e4548"/>
<text x="246.40" y="396.90" font-size="7.05" fill="#2a2a2a">Secondary</text>
<text x="341.80" y="396.90" font-size="6.75" fill="#2a2a2a" text-anchor="end">7 (2)</text>
<text x="373.70" y="396.90" font-size="6.75" fill="#2a2a2a" text-anchor="middle">1.17 (0.53, 2.57)</text>
<text x="432.60" y="396.90" font-size="6.75" fill="#2a2a2a" text-anchor="end">.70</text>
<line x1="445.70" y1="394.80" x2="472.62" y2="394.80" stroke="#222" stroke-width="0.85"/>
<line x1="445.70" y1="393.30" x2="445.70" y2="396.30" stroke="#222" stroke-width="0.9"/>
<line x1="472.62" y1="393.30" x2="472.62" y2="396.30" stroke="#222" stroke-width="0.9"/>
<rect x="452.04" y="392.70" width="4.20" height="4.20" fill="#111"/>
<text x="246.40" y="403.80" font-size="7.05" fill="#2a2a2a">Treatment−related</text>
<text x="341.80" y="403.80" font-size="6.75" fill="#2a2a2a" text-anchor="end">13 (4)</text>
<text x="373.70" y="403.80" font-size="6.75" fill="#2a2a2a" text-anchor="middle">0.17 (0.02, 1.31)</text>
<text x="432.60" y="403.80" font-size="6.75" fill="#2a2a2a" text-anchor="end">.088</text>
<line x1="438.96" y1="401.70" x2="455.99" y2="401.70" stroke="#222" stroke-width="0.85"/>
<line x1="438.96" y1="400.20" x2="438.96" y2="403.20" stroke="#222" stroke-width="0.9"/>
<line x1="455.99" y1="400.20" x2="455.99" y2="403.20" stroke="#222" stroke-width="0.9"/>
<rect x="438.84" y="399.60" width="4.20" height="4.20" fill="#111"/>
<text x="241.50" y="412.30" font-size="7.2" fill="#fff" stroke="#fff" stroke-width="0.15">White blood cells at diagnosis</text>
<text x="246.40" y="420.90" font-size="7.05" fill="#2a2a2a">&lt;100</text>
<text x="341.80" y="420.90" font-size="6.75" fill="#2a2a2a" text-anchor="end">303 (91)</text>
<text x="373.70" y="420.90" font-size="6.75" fill="#2a2a2a" text-anchor="middle">Reference</text>
<rect x="450.20" y="416.80" width="3.8" height="4.0" rx="0.3" fill="#3e4548"/>
<text x="246.40" y="428.50" font-size="7.05" fill="#2a2a2a">&gt;=100</text>
<text x="341.80" y="428.50" font-size="6.75" fill="#2a2a2a" text-anchor="end">29 (9)</text>
<text x="373.70" y="428.50" font-size="6.75" fill="#2a2a2a" text-anchor="middle">1.20 (0.64, 2.22)</text>
<text x="432.60" y="428.50" font-size="6.75" fill="#2a2a2a" text-anchor="end">.57</text>
<line x1="447.15" y1="426.40" x2="468.00" y2="426.40" stroke="#222" stroke-width="0.85"/>
<line x1="447.15" y1="424.90" x2="447.15" y2="427.90" stroke="#222" stroke-width="0.9"/>
<line x1="468.00" y1="424.90" x2="468.00" y2="427.90" stroke="#222" stroke-width="0.9"/>
<rect x="452.44" y="424.30" width="4.20" height="4.20" fill="#111"/>
<text x="241.50" y="435.80" font-size="7.2" fill="#fff" stroke="#fff" stroke-width="0.15">Last treatment before CR</text>
<text x="246.40" y="443.60" font-size="7.05" fill="#2a2a2a">&gt;I</text>
<text x="341.80" y="443.60" font-size="6.75" fill="#2a2a2a" text-anchor="end">266 (80)</text>
<text x="373.70" y="443.60" font-size="6.75" fill="#2a2a2a" text-anchor="middle">Reference</text>
<rect x="450.20" y="439.50" width="3.8" height="4.0" rx="0.3" fill="#3e4548"/>
<text x="246.40" y="451.30" font-size="7.05" fill="#2a2a2a">&gt;II</text>
<text x="341.80" y="451.30" font-size="6.75" fill="#2a2a2a" text-anchor="end">66 (20)</text>
<text x="373.70" y="451.30" font-size="6.75" fill="#2a2a2a" text-anchor="middle">1.52 (1.01, 2.28)</text>
<text x="432.60" y="451.30" font-size="6.75" fill="#b3242c" text-anchor="end">.047</text>
<line x1="452.03" y1="449.20" x2="468.80" y2="449.20" stroke="#b8343c" stroke-width="0.85"/>
<line x1="452.03" y1="447.70" x2="452.03" y2="450.70" stroke="#b8343c" stroke-width="0.9"/>
<line x1="468.80" y1="447.70" x2="468.80" y2="450.70" stroke="#b8343c" stroke-width="0.9"/>
<rect x="456.81" y="447.25" width="3.90" height="3.90" fill="#c4001f"/>
<line x1="435.00" y1="454.40" x2="507.20" y2="454.40" stroke="#1a1a1a" stroke-width="1.1"/>
<line x1="438.70" y1="454.40" x2="438.70" y2="457.40" stroke="#1a1a1a" stroke-width="1"/>
<text x="438.70" y="465.90" font-size="6.9" fill="#2a2a2a" text-anchor="middle">0</text>
<line x1="451.90" y1="454.40" x2="451.90" y2="457.40" stroke="#1a1a1a" stroke-width="1"/>
<text x="451.90" y="465.90" font-size="6.9" fill="#2a2a2a" text-anchor="middle">1</text>
<line x1="465.10" y1="454.40" x2="465.10" y2="457.40" stroke="#1a1a1a" stroke-width="1"/>
<text x="465.10" y="465.90" font-size="6.9" fill="#2a2a2a" text-anchor="middle">2</text>
<line x1="478.30" y1="454.40" x2="478.30" y2="457.40" stroke="#1a1a1a" stroke-width="1"/>
<text x="478.30" y="465.90" font-size="6.9" fill="#2a2a2a" text-anchor="middle">3</text>
<line x1="491.50" y1="454.40" x2="491.50" y2="457.40" stroke="#1a1a1a" stroke-width="1"/>
<text x="491.50" y="465.90" font-size="6.9" fill="#2a2a2a" text-anchor="middle">4</text>
<line x1="504.70" y1="454.40" x2="504.70" y2="457.40" stroke="#1a1a1a" stroke-width="1"/>
<text x="504.70" y="465.90" font-size="6.9" fill="#2a2a2a" text-anchor="middle">5</text>
</svg>
<div id="frame"></div>
</div></body></html>
